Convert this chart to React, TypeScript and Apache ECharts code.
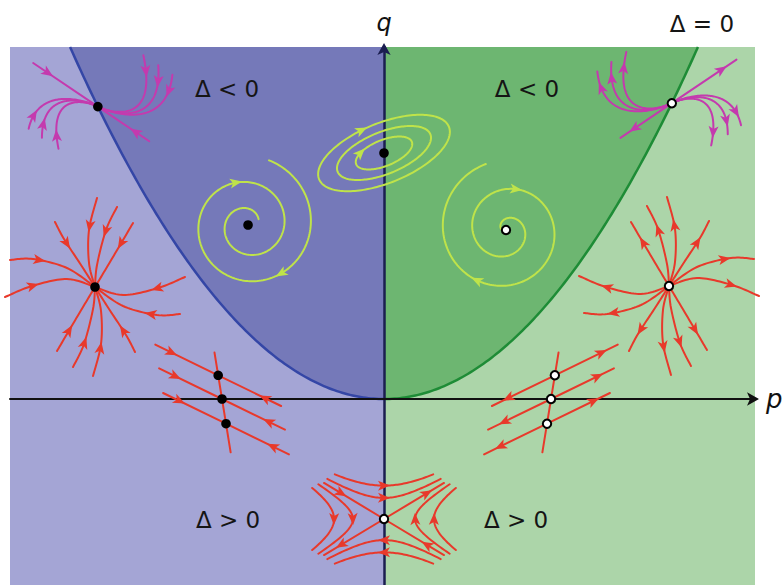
import React, { useEffect, useRef } from "react";
import * as echarts from "echarts";

// ---------- axes: p (trace) and q (determinant) ----------
const P_MIN = -4.47;
const P_MAX = 4.434;
const Q_MIN = -1.86;
const Q_MAX = 3.52;
const AXIS_NAMES = ["p", "q"];

// ---------- phase-portrait glyphs placed in the (p, q) plane ----------
const GLYPH_KIND = ["degenerate", "degenerate", "spiral", "center", "spiral", "node", "node", "fixedLine", "fixedLine", "saddle"];
const GLYPH_P = [-3.42, 3.44, -1.625, 0, 1.458, -3.454, 3.406, -1.936, 1.996, 0];
const GLYPH_Q = [2.924, 2.958, 1.74, 2.46, 1.69, 1.12, 1.13, 0, 0, -1.2];
const GLYPH_STABLE = [1, 0, 1, 1, 0, 1, 0, 1, 0, 0];
const GLYPH_VARIANT = [0, 1, 0, 0, 1, 0, 1, 0, 1, 0];

// ---------- region labels ----------
const LABEL_TEXT = ["Δ < 0", "Δ < 0", "Δ > 0", "Δ > 0", "Δ = 0"];
const LABEL_P = [-1.876, 1.709, -1.864, 1.578, 3.8];
const LABEL_Q = [3.1, 3.1, -1.21, -1.21, 3.75];

// ---------- colours ----------
const LIGHT_PURPLE = "#a4a5d5";
const DARK_PURPLE = "#7579b9";
const DARK_GREEN = "#6db671";
const LIGHT_GREEN = "#acd5a9";
const CURVE_LEFT = "#3446a6";
const CURVE_RIGHT = "#1e8c36";
const RED = "#e8392b";
const MAGENTA = "#c43aae";
const LIME = "#bfe34a";

// ---------- glyph templates (local pixel offsets) ----------
type Pt = [number, number];
type Path = { pts: Pt[]; arrows?: number[]; arrowIdx?: number[] };

const NODE_TRAJ: Pt[][] = [
  [[2, -89], [-6, -57], [-6, -24], [0, 0]],
  [[22, -80], [11, -57], [2, -22], [0, 0]],
  [[38, -64], [28, -47], [12, -20], [0, 0]],
  [[-40, -65], [-31, -48], [-14, -22], [0, 0]],
  [[-85, -27], [-62, -28], [-28, -19], [0, 0]],
  [[-90, 10], [-63, -1], [-28, -8], [0, 0]],
];
const NODE_ARROW_AT = 0.32;

const DEG_ANGLE = 34;
const DEG_C = 1.18;
const DEG_A0 = [[9, 27, 44], [-9, -29, -45]];
const DEG_B0 = [68, -57];
const DEG_LINE = [-78, 62];
const DEG_LINE_ARROWS = [0.23, 0.27];
const DEG_CURVE_ARROW = 0.17;

const SPIRALS = [
  { r0: 68, r1: 12, th0: -72, th1: 691, arrows: [56, 255] },
  { r0: 4, r1: 69, th0: 180, th1: 973, arrows: [644, 841] },
];

const ELLIPSE_A = [70, 50, 30];
const ELLIPSE_B = [30, 21, 13];
const ELLIPSE_ROT = -22;
const ELLIPSE_ARROW = [260, -1, 223];

const SADDLE_ANGLE = 31;
const SADDLE_SEP = 70;
const SADDLE_ARROW_DIST = 50;
const SADDLE_EXTENT = 72;
const SADDLE_C_TB = [420, 1050];
const SADDLE_C_LR = [330, 850];

const FL_LINE_ANGLE = 26;
const FL_DOT_ANGLE = 80.8;
const FL_DOTS = [-24, 0, 25];
const FL_HALF = 70;
const FL_DOT_LINE = [-47, 54];
const FL_ARROW_AT = 0.26;

const rad = (d: number) => (d * Math.PI) / 180;

function smooth(ctrl: Pt[], n = 14): Pt[] {
  const out: Pt[] = [];
  const m = ctrl.length;
  for (let i = 0; i < m - 1; i++) {
    const p0 = ctrl[Math.max(0, i - 1)], p1 = ctrl[i], p2 = ctrl[i + 1], p3 = ctrl[Math.min(m - 1, i + 2)];
    for (let k = 0; k < n; k++) {
      const t = k / n, t2 = t * t, t3 = t2 * t;
      const f = (a: number, b: number, c: number, d: number) =>
        0.5 * (2 * b + (-a + c) * t + (2 * a - 5 * b + 4 * c - d) * t2 + (-a + 3 * b - 3 * c + d) * t3);
      out.push([f(p0[0], p1[0], p2[0], p3[0]), f(p0[1], p1[1], p2[1], p3[1])]);
    }
  }
  out.push(ctrl[m - 1]);
  return out;
}

function along(pts: Pt[], frac: number): { p: Pt; d: Pt } {
  const cum = [0];
  for (let i = 1; i < pts.length; i++)
    cum.push(cum[i - 1] + Math.hypot(pts[i][0] - pts[i - 1][0], pts[i][1] - pts[i - 1][1]));
  const target = frac * cum[cum.length - 1];
  let i = 1;
  while (i < pts.length - 1 && cum[i] < target) i++;
  const a = pts[i - 1], b = pts[i];
  const seg = cum[i] - cum[i - 1] || 1;
  const u = (target - cum[i - 1]) / seg;
  const dx = b[0] - a[0], dy = b[1] - a[1];
  const len = Math.hypot(dx, dy) || 1;
  return { p: [a[0] + dx * u, a[1] + dy * u], d: [dx / len, dy / len] };
}

function atIndex(pts: Pt[], idx: number): { p: Pt; d: Pt } {
  const i = Math.max(1, Math.min(pts.length - 2, Math.round(idx)));
  const a = pts[i - 1], b = pts[i + 1];
  const dx = b[0] - a[0], dy = b[1] - a[1];
  const len = Math.hypot(dx, dy) || 1;
  return { p: pts[i], d: [dx / len, dy / len] };
}

function nodePaths(): Path[] {
  const res: Path[] = [];
  for (const tr of NODE_TRAJ) {
    res.push({ pts: smooth(tr), arrows: [NODE_ARROW_AT] });
    res.push({ pts: smooth(tr.map(([x, y]) => [-x, -y] as Pt)), arrows: [NODE_ARROW_AT] });
  }
  return res;
}

function degeneratePaths(): Path[] {
  const th = rad(DEG_ANGLE);
  const e: Pt = [Math.cos(th), Math.sin(th)];
  const n: Pt = [Math.sin(th), -Math.cos(th)];
  const map = (a: number, b: number): Pt => [a * e[0] + b * n[0], a * e[1] + b * n[1]];
  const res: Path[] = [];
  res.push({ pts: [map(DEG_LINE[0], 0), map(0, 0)], arrows: [DEG_LINE_ARROWS[0]] });
  res.push({ pts: [map(DEG_LINE[1], 0), map(0, 0)], arrows: [DEG_LINE_ARROWS[1]] });
  for (let side = 0; side < 2; side++) {
    const b0 = DEG_B0[side];
    for (const a0 of DEG_A0[side]) {
      const pts: Pt[] = [];
      const N = 80;
      for (let k = 0; k <= N; k++) {
        const s = 1 - k / N;
        if (s <= 0) { pts.push([0, 0]); continue; }
        const a = s * (a0 - DEG_C * b0 * Math.log(s));
        pts.push(map(a, b0 * s));
      }
      res.push({ pts, arrows: [DEG_CURVE_ARROW] });
    }
  }
  return res;
}

function spiralPaths(v: number): Path[] {
  const sp = SPIRALS[v];
  const N = 400;
  const pts: Pt[] = [];
  for (let k = 0; k <= N; k++) {
    const f = k / N;
    const th = rad(sp.th0 + (sp.th1 - sp.th0) * f);
    const r = sp.r0 + (sp.r1 - sp.r0) * f;
    pts.push([r * Math.cos(th), r * Math.sin(th)]);
  }
  const arrowIdx = sp.arrows.map((a) => ((a - sp.th0) / (sp.th1 - sp.th0)) * N);
  return [{ pts, arrowIdx }];
}

function centerPaths(): Path[] {
  const res: Path[] = [];
  const c = Math.cos(rad(ELLIPSE_ROT)), s = Math.sin(rad(ELLIPSE_ROT));
  const N = 180;
  ELLIPSE_A.forEach((a, i) => {
    const b = ELLIPSE_B[i];
    const pts: Pt[] = [];
    for (let k = 0; k <= N; k++) {
      const ph = (2 * Math.PI * k) / N;
      const u = a * Math.cos(ph), v = b * Math.sin(ph);
      pts.push([u * c - v * s, u * s + v * c]);
    }
    const arrowIdx = ELLIPSE_ARROW[i] >= 0 ? [(ELLIPSE_ARROW[i] / 360) * N] : [];
    res.push({ pts, arrowIdx });
  });
  return res;
}

function saddlePaths(): Path[] {
  const b = rad(SADDLE_ANGLE);
  const e1: Pt = [Math.cos(b), Math.sin(b)];
  const e2: Pt = [Math.cos(b), -Math.sin(b)];
  const map = (s: number, t: number): Pt => [s * e1[0] + t * e2[0], s * e1[1] + t * e2[1]];
  const res: Path[] = [];
  const fin = (SADDLE_SEP - SADDLE_ARROW_DIST) / SADDLE_SEP;
  res.push({ pts: [map(-SADDLE_SEP, 0), [0, 0]], arrows: [fin] });
  res.push({ pts: [map(SADDLE_SEP, 0), [0, 0]], arrows: [fin] });
  res.push({ pts: [[0, 0], map(0, SADDLE_SEP)], arrows: [1 - fin] });
  res.push({ pts: [[0, 0], map(0, -SADDLE_SEP)], arrows: [1 - fin] });
  const L = SADDLE_EXTENT;
  const hyper = (C: number, tSign: number, sSign: number) => {
    const pts: Pt[] = [];
    const N = 60;
    const l0 = Math.log(C / L), l1 = Math.log(L);
    for (let k = 0; k <= N; k++) {
      const tm = Math.exp(l0 + ((l1 - l0) * k) / N);
      const t = tSign * tm;
      const s = sSign * (C / tm);
      pts.push(map(s, t));
    }
    return { pts, arrows: [0.5] };
  };
  for (const C of SADDLE_C_TB) {
    res.push(hyper(C, 1, -1)); // top
    res.push(hyper(C, -1, 1)); // bottom
  }
  for (const C of SADDLE_C_LR) {
    res.push(hyper(C, -1, -1)); // left
    res.push(hyper(C, 1, 1)); // right
  }
  return res;
}

function fixedLinePaths(): { paths: Path[]; dots: Pt[] } {
  const f: Pt = [Math.cos(rad(FL_LINE_ANGLE)), Math.sin(rad(FL_LINE_ANGLE))];
  const d: Pt = [Math.cos(rad(FL_DOT_ANGLE)), Math.sin(rad(FL_DOT_ANGLE))];
  const paths: Path[] = [];
  const dots: Pt[] = [];
  paths.push({ pts: [[d[0] * FL_DOT_LINE[0], d[1] * FL_DOT_LINE[0]], [d[0] * FL_DOT_LINE[1], d[1] * FL_DOT_LINE[1]]] });
  for (const o of FL_DOTS) {
    const c: Pt = [d[0] * o, d[1] * o];
    dots.push(c);
    paths.push({ pts: [[c[0] - f[0] * FL_HALF, c[1] - f[1] * FL_HALF], c], arrows: [FL_ARROW_AT] });
    paths.push({ pts: [[c[0] + f[0] * FL_HALF, c[1] + f[1] * FL_HALF], c], arrows: [FL_ARROW_AT] });
  }
  return { paths, dots };
}

const ARROW_LEN = 12;
const ARROW_HALF = 5;

function arrowHead(p: Pt, d: Pt, color: string) {
  const nx = -d[1], ny = d[0];
  const tip: Pt = [p[0] + d[0] * ARROW_LEN * 0.5, p[1] + d[1] * ARROW_LEN * 0.5];
  const back: Pt = [p[0] - d[0] * ARROW_LEN * 0.5, p[1] - d[1] * ARROW_LEN * 0.5];
  const notch: Pt = [p[0] - d[0] * ARROW_LEN * 0.25, p[1] - d[1] * ARROW_LEN * 0.25];
  return {
    type: "polygon",
    shape: {
      points: [tip, [back[0] + nx * ARROW_HALF, back[1] + ny * ARROW_HALF], notch, [back[0] - nx * ARROW_HALF, back[1] - ny * ARROW_HALF]],
    },
    style: { fill: color, stroke: "none" },
  };
}

function glyphChildren(i: number): any[] {
  const kind = GLYPH_KIND[i];
  const variant = GLYPH_VARIANT[i];
  let paths: Path[] = [];
  let dots: Pt[] = [[0, 0]];
  let color = RED;
  let mirror = false;
  let reverse = false;
  if (kind === "node") {
    paths = nodePaths();
    mirror = reverse = variant === 1;
  } else if (kind === "degenerate") {
    paths = degeneratePaths();
    color = MAGENTA;
    mirror = reverse = variant === 1;
  } else if (kind === "spiral") {
    paths = spiralPaths(variant);
    color = LIME;
  } else if (kind === "center") {
    paths = centerPaths();
    color = LIME;
  } else if (kind === "saddle") {
    paths = saddlePaths();
  } else if (kind === "fixedLine") {
    const fl = fixedLinePaths();
    paths = fl.paths;
    dots = fl.dots;
    mirror = reverse = variant === 1;
  }
  const tx = (p: Pt): Pt => (mirror ? [-p[0], p[1]] : [p[0], p[1]]);
  const td = (d: Pt): Pt => {
    let x = mirror ? -d[0] : d[0];
    let y = d[1];
    if (reverse) { x = -x; y = -y; }
    return [x, y];
  };
  const lines: any[] = [];
  const heads: any[] = [];
  for (const path of paths) {
    lines.push({
      type: "polyline",
      shape: { points: path.pts.map(tx) },
      style: { stroke: color, lineWidth: 2, fill: "none", lineJoin: "round", lineCap: "round" },
    });
    for (const f of path.arrows || []) {
      const a = along(path.pts, f);
      heads.push(arrowHead(tx(a.p), td(a.d), color));
    }
    for (const idx of path.arrowIdx || []) {
      const a = atIndex(path.pts, idx);
      heads.push(arrowHead(tx(a.p), td(a.d), color));
    }
  }
  const stable = GLYPH_STABLE[i] === 1;
  const dotEls = dots.map((c) => {
    const p = tx(c);
    return {
      type: "circle",
      shape: { cx: p[0], cy: p[1], r: stable ? 4.8 : 4.2 },
      style: stable ? { fill: "#000", stroke: "none" } : { fill: "#fff", stroke: "#000", lineWidth: 2 },
    };
  });
  return [...lines, ...heads, ...dotEls];
}

function buildOption(): any {
  const axisCommon = {
    type: "value",
    axisTick: { show: false },
    axisLabel: { show: false },
    splitLine: { show: false },
    z: 3,
  };
  return {
    animation: false,
    backgroundColor: "#ffffff",
    grid: { left: 10, top: 47, width: 745, height: 538, containLabel: false, outerBoundsMode: "none" },
    xAxis: {
      ...axisCommon,
      min: P_MIN,
      max: P_MAX,
      name: AXIS_NAMES[0],
      nameLocation: "end",
      nameGap: 11,
      nameTextStyle: { fontFamily: "DejaVu Sans", fontStyle: "italic", fontSize: 26, color: "#111", verticalAlign: "middle", padding: [0, 0, 4, 0] },
      axisLine: { onZero: true, symbol: ["none", "arrow"], symbolSize: [10, 12], symbolOffset: [0, 4], lineStyle: { color: "#111", width: 2 } },
    },
    yAxis: {
      ...axisCommon,
      min: Q_MIN,
      max: Q_MAX,
      name: AXIS_NAMES[1],
      nameLocation: "end",
      nameGap: 12,
      nameTextStyle: { fontFamily: "DejaVu Sans", fontStyle: "italic", fontSize: 24, color: "#111" },
      axisLine: { onZero: true, symbol: ["none", "arrow"], symbolSize: [10, 12], symbolOffset: [0, 4], lineStyle: { color: "#1b1e50", width: 2.5 } },
    },
    series: [
      {
        type: "custom",
        z: 1,
        silent: true,
        data: [[0, 0]],
        renderItem: (_params: any, api: any) => {
          const c = (p: number, q: number) => api.coord([p, q]);
          const pTop = 2 * Math.sqrt(Q_MAX);
          const N = 120;
          const left: number[][] = [];
          const right: number[][] = [];
          for (let k = 0; k <= N; k++) {
            const p = pTop * (1 - k / N);
            left.push(c(-p, (p * p) / 4));
            right.push(c(pTop * (k / N), (pTop * (k / N)) ** 2 / 4));
          }
          return {
            type: "group",
            children: [
              { type: "polygon", shape: { points: [c(P_MIN, Q_MIN), c(0, Q_MIN), c(0, Q_MAX), c(P_MIN, Q_MAX)] }, style: { fill: LIGHT_PURPLE } },
              { type: "polygon", shape: { points: [c(0, Q_MIN), c(P_MAX, Q_MIN), c(P_MAX, Q_MAX), c(0, Q_MAX)] }, style: { fill: LIGHT_GREEN } },
              { type: "polygon", shape: { points: [...left, c(0, Q_MAX)] }, style: { fill: DARK_PURPLE } },
              { type: "polygon", shape: { points: [...right, c(0, Q_MAX)] }, style: { fill: DARK_GREEN } },
              { type: "polyline", shape: { points: left }, style: { stroke: CURVE_LEFT, lineWidth: 2.5, fill: "none" } },
              { type: "polyline", shape: { points: right }, style: { stroke: CURVE_RIGHT, lineWidth: 2.5, fill: "none" } },
            ],
          };
        },
      },
      {
        type: "custom",
        z: 5,
        silent: true,
        data: GLYPH_P.map((p, i) => [p, GLYPH_Q[i], i]),
        renderItem: (params: any, api: any) => {
          const i = params.dataIndex;
          const [x, y] = api.coord([api.value(0), api.value(1)]);
          return { type: "group", x, y, children: glyphChildren(i) };
        },
      },
      {
        type: "custom",
        z: 6,
        silent: true,
        data: LABEL_P.map((p, i) => [p, LABEL_Q[i], i]),
        renderItem: (params: any, api: any) => {
          const i = params.dataIndex;
          const [x, y] = api.coord([api.value(0), api.value(1)]);
          return {
            type: "text",
            x,
            y,
            style: {
              text: LABEL_TEXT[i],
              fill: "#151515",
              fontSize: 23,
              fontFamily: "DejaVu Sans",
              align: "center",
              verticalAlign: "middle",
              textAlign: "center",
              textVerticalAlign: "middle",
            },
          };
        },
      },
    ],
  };
}

export default function App() {
  const ref = useRef<HTMLDivElement>(null);
  useEffect(() => {
    if (!ref.current) return;
    const chart = echarts.init(ref.current, null, { renderer: "svg" });
    chart.setOption(buildOption());
    return () => chart.dispose();
  }, []);
  return (
    <div
      ref={ref}
      style={{ position: "absolute", left: 0, top: 0, width: 782, height: 585, background: "#fff" }}
    />
  );
}
